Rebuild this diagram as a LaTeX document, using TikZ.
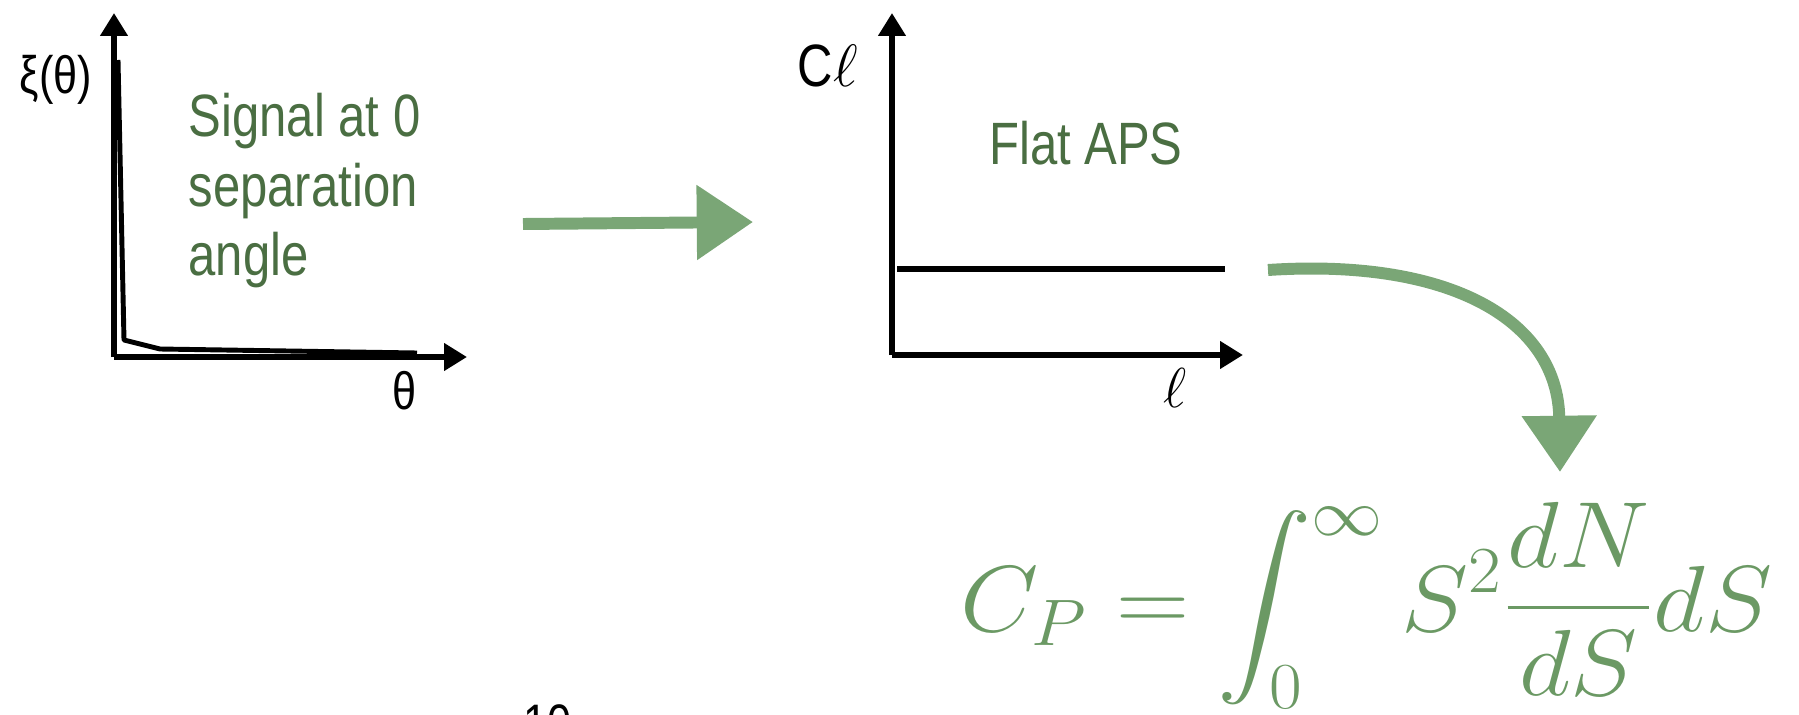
\RequirePackage{fix-cm}
\documentclass[tikz,border=0pt]{standalone}
\usepackage{exscale}
\usepackage{graphicx}
\usepackage[no-math]{fontspec}
\setmainfont{Liberation Sans}[FakeStretch=0.82]
\usetikzlibrary{arrows.meta}
\definecolor{textgreen}{RGB}{74,110,66}
\definecolor{mathgreen}{RGB}{107,153,100}
\definecolor{chalkgreen}{RGB}{122,166,118}
\tikzset{
  axis/.style={line width=1.7pt, -{Triangle[length=6.5pt,width=7.5pt]}},
  chalk/.style={draw=chalkgreen, line width=3.4pt, -{Triangle[length=16pt,width=20.5pt]}},
  note/.style={text=textgreen, inner sep=0pt, font=\fontsize{17pt}{19.9pt}\selectfont},
  lbl/.style={inner sep=0pt, font=\fontsize{15pt}{18pt}\selectfont},
}
\begin{document}
\begin{tikzpicture}[x=0.01cm, y=-0.01cm]
	\clip (0,0) rectangle (1799,715);
	% xi(theta): spike at zero separation
	\draw[line width=1.4pt, line join=round, preaction={draw=white, line width=2.8pt}]
		(118,60) -- (124,340) -- (160,349) -- (417,353);
	\coordinate (oxi) at (114,357);
	\draw[axis] (oxi) -- (114,13);
	\draw[axis] (oxi) -- (467,357);
	\node[lbl] (xilabel) at (56,80) {ξ(θ)};
	\node[lbl] (thetalabel) at (405,391) {θ};
	\node[note, anchor=north west, align=left] (signal) at (188,92) {Signal at 0\\separation\\angle};

	% flat power spectrum
	\coordinate (ocl) at (892,355);
	\draw[axis] (ocl) -- (892,13);
	\draw[axis] (ocl) -- (1243,355);
	\draw[line width=1.7pt] (897,269) -- (1225,269);
	\node[note, text=black, anchor=base west] (cllabel) at (797,87) {C$\ell$};
	\node[inner sep=0pt, font=\fontsize{16pt}{19pt}\selectfont] (ellabel) at (1175,388) {$\ell$};
	\node[note, anchor=base] (flat) at (1086,164) {Flat APS};

	% chalk arrows
	\coordinate (a1) at (523,224);
	\coordinate (b1) at (753,222);
	\draw[chalk] (a1) -- (b1);
	\coordinate (a2) at (1268,270);
	\coordinate (b2) at (1560,472);
	\draw[chalk] (a2) .. controls (1450,258) and (1558,320) .. (b2);

	% shot noise
	\node[anchor=base west, inner sep=0pt, text=mathgreen, font=\fontsize{26.7pt}{32pt}\selectfont] (formula) at (960,631)
		{\scalebox{1.08}[1]{$\displaystyle C_P = \int_0^\infty S^2 \frac{dN}{dS} dS$}};
	\node[lbl, anchor=north] (pagenum) at (548,704) {10};
\end{tikzpicture}
\end{document}
